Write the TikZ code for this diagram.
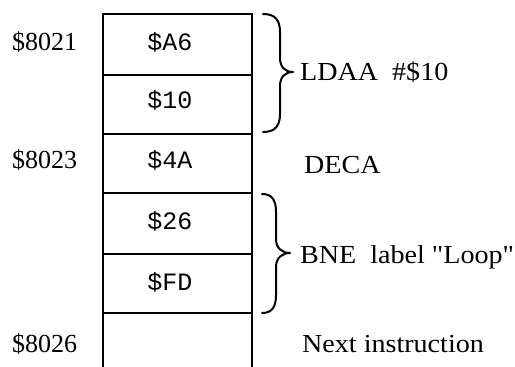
\documentclass[tikz,border=0pt]{standalone}
\usepackage{fontspec}
% families set up without the TeX ligature mapping, so " stays a straight quote
\newfontfamily\addrfont{Liberation Serif}
\newfontfamily\notefont{Liberation Serif}[FakeStretch=1.08]
\newfontfamily\codefont{Liberation Mono}
\begin{document}
\begin{tikzpicture}[x=1pt,y=-1pt,
  cell/.style={draw, line width=2pt, minimum width=149pt, inner sep=0pt, outer sep=0pt},
  byte/.style={font=\codefont\fontsize{25}{30}\selectfont, anchor=base, inner sep=0pt},
  addr/.style={font=\addrfont\fontsize{26}{31}\selectfont, anchor=base west, inner sep=0pt},
  note/.style={font=\notefont\fontsize{26}{31}\selectfont, anchor=base west, inner sep=0pt},
  brace/.style={line width=2pt, line cap=round, line join=round}]
\useasboundingbox (0,0) rectangle (515,367);

% memory cells
\node[cell, minimum height=61pt] (c1) at (177.5,44.5) {};
\node[cell, minimum height=59pt] (c2) at (177.5,104.5) {};
\node[cell, minimum height=59pt] (c3) at (177.5,163.5) {};
\node[cell, minimum height=61pt] (c4) at (177.5,223.5) {};
\node[cell, minimum height=59pt] (c5) at (177.5,283.5) {};
% last cell, open at the bottom
\coordinate (o1) at (103,370);
\coordinate (o2) at (252,370);
\draw[line width=2pt] (c5.south west) -- (o1);
\draw[line width=2pt] (c5.south east) -- (o2);

% cell contents
\node[byte] (b1) at (170,50) {\$A6};
\node[byte] (b2) at (170,108) {\$10};
\node[byte] (b3) at (170,168) {\$4A};
\node[byte] (b4) at (170,229) {\$26};
\node[byte] (b5) at (170,290) {\$FD};

% addresses
\node[addr] (a1) at (12,50) {\$8021};
\node[addr] (a2) at (12,168) {\$8023};
\node[addr] (a3) at (12,352) {\$8026};

% braces
\draw[brace] (263,14) .. controls (275,14) and (280,20) .. (280,32)
  -- (280,58) .. controls (280,67) and (285,72) .. (293,72)
  .. controls (285,72) and (280,77) .. (280,86)
  -- (280,114) .. controls (280,126) and (275,132) .. (263,132);
\draw[brace] (262,194) .. controls (272,194) and (276,200) .. (276,212)
  -- (276,239) .. controls (276,248) and (282,253) .. (290,253)
  .. controls (282,253) and (276,258) .. (276,267)
  -- (276,295) .. controls (276,307) and (272,313) .. (262,313);

% instructions
\node[note] (n1) at (300,80) {LDAA\ \ \#\$10};
\node[note] (n2) at (304,173) {DECA};
\node[note] (n3) at (300,263) {BNE\ \ label "Loop"};
\node[note] (n4) at (302,352) {Next instruction};
\end{tikzpicture}
\end{document}
